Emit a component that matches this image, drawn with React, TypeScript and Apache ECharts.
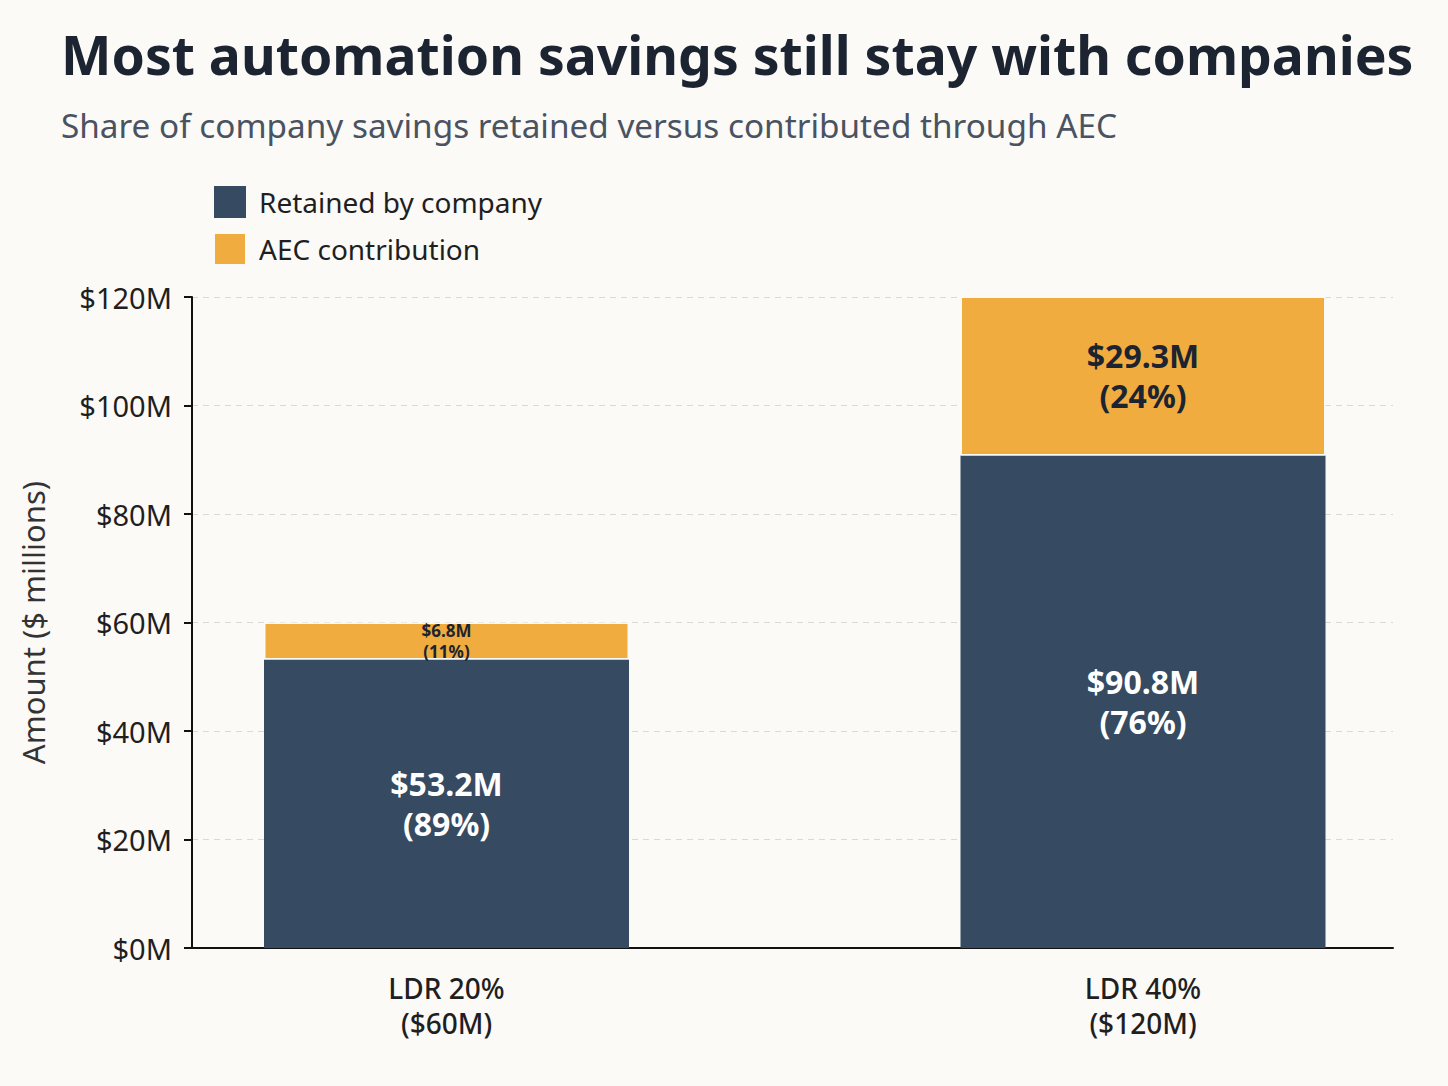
import React, { useEffect, useRef } from 'react';
import * as echarts from 'echarts';

const categories = ['LDR 20%\n($60M)', 'LDR 40%\n($120M)'];
const retained = [53.2, 90.8];
const contribution = [6.8, 29.3];
const yTicks = [0, 20, 40, 60, 80, 100, 120];

const FONT = '"Noto Sans", sans-serif';

const pct = (v: number, i: number) => Math.round((v / (retained[i] + contribution[i])) * 100);
const barLabel = (p: any) => `$${p.value}M\n(${pct(p.value, p.dataIndex)}%)`;

const App: React.FC = () => {
    const chartRef = useRef<HTMLDivElement>(null);

    useEffect(() => {
        document.body.style.margin = '0';
        if (!chartRef.current) return;
        const chart = echarts.init(chartRef.current, null, { renderer: 'svg' });

        // grid 0 carries the visible axes, grid 1 places the two bars
        const option: echarts.EChartsOption = {
            animation: false,
            backgroundColor: '#fbfaf7',
            textStyle: { fontFamily: FONT },
            title: {
                text: 'Most automation savings still stay with companies',
                subtext: 'Share of company savings retained versus contributed through AEC',
                left: 56,
                top: 22,
                itemGap: 27,
                textStyle: { fontSize: 53.5, fontWeight: 'bold', color: '#1b2430', fontFamily: FONT },
                subtextStyle: { fontSize: 33.3, color: '#4a5361', fontFamily: FONT }
            },
            legend: {
                orient: 'vertical',
                left: 208,
                top: 181,
                itemWidth: 32,
                itemHeight: 32,
                itemGap: 14,
                icon: 'rect',
                textStyle: { fontSize: 28, color: '#1f1f1f', padding: [0, 0, 0, 8] },
                data: ['Retained by company', 'AEC contribution']
            },
            grid: [
                { left: 192, right: 55, top: 297, bottom: 138 },
                { left: 446.5, right: 305, top: 297, bottom: 138 }
            ],
            xAxis: [
                {
                    gridIndex: 0,
                    type: 'value',
                    min: 0,
                    max: 1,
                    axisLine: { show: true, lineStyle: { color: '#111', width: 2 } },
                    axisTick: { show: false },
                    axisLabel: { show: false },
                    splitLine: { show: false }
                },
                {
                    gridIndex: 1,
                    type: 'category',
                    data: categories,
                    boundaryGap: false,
                    axisLine: { show: false },
                    axisTick: { show: false },
                    splitLine: { show: false },
                    axisLabel: {
                        fontSize: 28,
                        lineHeight: 35,
                        color: '#1f1f1f',
                        fontWeight: 500,
                        margin: 22
                    }
                }
            ],
            yAxis: [
                {
                    gridIndex: 0,
                    type: 'value',
                    min: 0,
                    max: 120,
                    interval: 20,
                    name: 'Amount ($ millions)',
                    nameLocation: 'middle',
                    nameGap: 144,
                    nameTextStyle: { fontSize: 31, color: '#333' },
                    axisLine: { show: true, onZero: false, lineStyle: { color: '#111', width: 2 } },
                    axisTick: { show: true, length: 8, lineStyle: { color: '#111', width: 2 } },
                    axisLabel: {
                        customValues: yTicks,
                        formatter: (v: number) => `$${v}M`,
                        fontSize: 29,
                        color: '#1f1f1f',
                        margin: 20
                    },
                    splitLine: { lineStyle: { color: '#d9d9d9', type: [6, 5], width: 1.2 } }
                },
                {
                    gridIndex: 1,
                    type: 'value',
                    min: 0,
                    max: 120,
                    show: false
                }
            ],
            series: [
                {
                    name: 'Retained by company',
                    type: 'bar',
                    xAxisIndex: 1,
                    yAxisIndex: 1,
                    stack: 'total',
                    clip: false,
                    barWidth: 365,
                    itemStyle: { color: '#364a61' },
                    label: {
                        show: true,
                        position: 'inside',
                        color: '#ffffff',
                        fontSize: 32,
                        fontWeight: 'bold',
                        lineHeight: 40,
                        formatter: barLabel
                    },
                    data: retained
                },
                {
                    name: 'AEC contribution',
                    type: 'bar',
                    xAxisIndex: 1,
                    yAxisIndex: 1,
                    stack: 'total',
                    clip: false,
                    barWidth: 365,
                    itemStyle: { color: '#f0ac3e', borderColor: '#fbfaf7', borderWidth: 1.5 },
                    label: {
                        show: true,
                        position: 'inside',
                        color: '#1b2430',
                        fontSize: 32,
                        fontWeight: 'bold',
                        lineHeight: 40,
                        formatter: barLabel
                    },
                    data: contribution.map((v, i) =>
                        i === 0 ? { value: v, label: { fontSize: 17, lineHeight: 21.5 } } : v
                    )
                }
            ]
        };

        chart.setOption(option);
        return () => {
            chart.dispose();
        };
    }, []);

    return <div ref={chartRef} style={{ width: '1448px', height: '1086px' }} />;
};

export default App;
